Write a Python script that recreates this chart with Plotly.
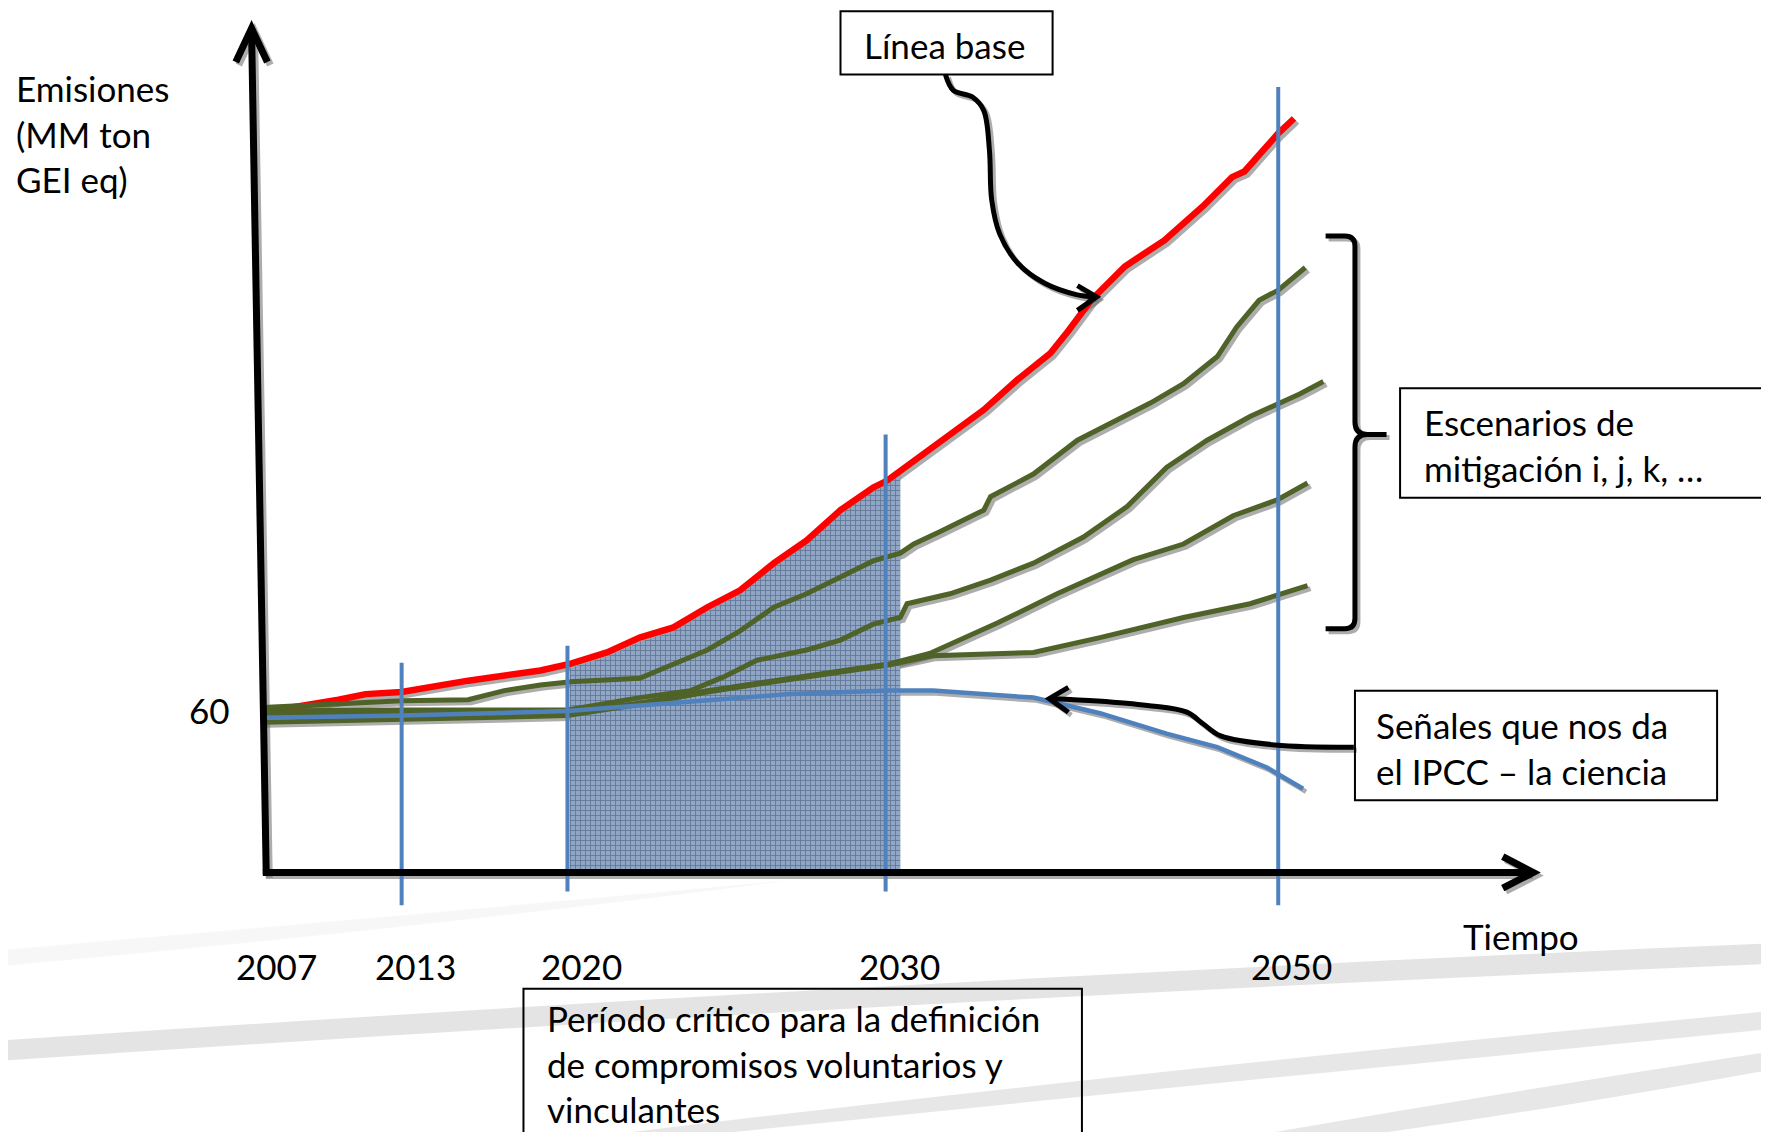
import numpy as np
import plotly.graph_objects as go

# schematic time axis (2007 = 0, arbitrary spacing as in the slide); emissions in MM ton GEI eq
TICK_LABELS = ["2007", "2013", "2020", "2030", "2050"]
TICK_X = [0.0, 12.3, 27.0, 55.2, 90.0]
Y_TICK = 60

GUIDE_X = [12.3, 27.0, 55.2, 90.0]
GUIDE_TOP = [78.0, 84.3, 162.8, 292.0]
GUIDE_BOTTOM = [-12.2, -7.1, -7.1, -12.2]

CRITICAL = [27.2, 56.5]  # 2020 -> 2030 window

BASE_X = [0.0, 2.7, 6.7, 9.1, 12.3, 18.2, 24.6, 27.3, 30.5, 33.4, 36.4, 39.4, 42.3, 45.3,
          48.2, 51.2, 54.1, 55.3, 58.5, 60.9, 63.9, 66.8, 69.8, 71.4, 73.4, 76.4, 79.9,
          83.3, 85.9, 87.0, 90.0, 91.4]
BASE_Y = [59.6, 61.3, 64.2, 66.3, 67.1, 71.3, 75.1, 77.6, 81.8, 87.3, 91.1, 98.6, 104.9, 115.0,
          123.4, 134.7, 143.1, 145.6, 155.7, 163.2, 172.0, 182.9, 193.0, 201.4, 212.7, 225.3,
          235.0, 247.6, 258.5, 260.6, 274.8, 280.3]

SCEN1_X = [0.0, 6.7, 12.3, 18.2, 21.4, 24.6, 27.3, 33.4, 36.4, 39.4, 42.3, 45.3, 48.2, 51.2,
           54.1, 56.5, 57.7, 60.0, 63.9, 64.5, 68.3, 72.2, 75.7, 78.7, 81.6, 84.6, 86.3, 88.3,
           90.0, 92.4]
SCEN1_Y = [61.3, 62.5, 63.8, 64.2, 67.6, 69.7, 70.9, 72.2, 77.6, 82.7, 89.8, 98.6, 103.6, 109.9,
           115.8, 118.7, 122.1, 126.7, 134.7, 139.7, 148.1, 160.7, 168.3, 174.6, 181.7, 191.8,
           202.7, 212.7, 216.5, 224.9]

SCEN2_X = [0.0, 12.3, 27.0, 33.4, 37.9, 40.8, 43.8, 48.2, 51.2, 54.1, 56.5, 57.1, 60.9, 64.5,
           68.3, 72.7, 76.6, 80.1, 83.7, 87.5, 91.9, 94.0]
SCEN2_Y = [60.0, 60.4, 60.4, 65.0, 67.6, 72.6, 78.9, 82.7, 86.4, 92.3, 94.8, 99.9, 103.6, 108.7,
           115.0, 124.6, 136.0, 150.6, 160.7, 169.5, 177.9, 182.5]

SCEN3_X = [0.0, 12.3, 27.0, 33.4, 39.4, 45.3, 51.2, 55.6, 59.1, 65.1, 70.4, 77.1, 81.6, 86.0,
           89.9, 92.6]
SCEN3_Y = [59.2, 59.6, 59.6, 62.9, 67.6, 71.3, 75.1, 77.6, 81.4, 92.7, 103.6, 116.2, 122.1,
           132.6, 138.5, 144.8]

SCEN4_X = [0.0, 12.3, 27.0, 33.4, 39.4, 45.3, 51.2, 55.6, 59.4, 68.3, 74.2, 81.6, 87.5, 92.6]
SCEN4_Y = [55.8, 57.1, 58.3, 62.5, 67.1, 70.9, 74.7, 77.2, 80.6, 81.8, 87.3, 94.8, 99.9, 106.6]

IPCC_X = [0.0, 12.3, 27.0, 38.7, 46.7, 55.6, 59.4, 68.3, 74.2, 80.1, 84.6, 89.0, 92.2]
IPCC_Y = [57.5, 58.3, 60.0, 63.8, 66.3, 67.6, 67.6, 65.0, 59.2, 51.6, 46.6, 39.0, 31.1]

# the page body keeps an 8px margin, so the figure is 8px smaller than the window
W, H = 1761, 1124
X_RANGE = [-22.59, 133.5]
Y_RANGE = [-96.5, 321.38]

RED = "#FF0000"
GREEN = "#4F6228"
BLUE = "#4F81BD"
SHADOW = "rgba(105,105,105,0.55)"
FONT = "Lato, Carlito, 'Open Sans', sans-serif"


def px(sx, sy):
    # slide position -> schematic data units (used only for callouts / decorations)
    return (sx - 233) / 10.0, (773 - sy) * 0.4196


def pt(sx, sy):
    u, v = px(sx, sy)
    return f"{u:.2f},{v:.2f}"


fig = go.Figure()


def add_line(x, y, color, width, shape="linear", shadow=True):
    if shadow:
        fig.add_trace(go.Scatter(x=x, y=y, mode="lines", hoverinfo="skip",
                                 line=dict(color=SHADOW, width=width, shape=shape),
                                 xaxis="x", yaxis="y"))
    fig.add_trace(go.Scatter(x=x, y=y, mode="lines", hoverinfo="skip",
                             line=dict(color=color, width=width, shape=shape),
                             xaxis="x2", yaxis="y2"))


def curve(points, color="black", width=5, shape="spline"):
    xs, ys = zip(*[px(a, b) for a, b in points])
    add_line(list(xs), list(ys), color, width, shape=shape)


# critical period shading, under the baseline curve
shade_x = [CRITICAL[0]] + [x for x in BASE_X if CRITICAL[0] < x < CRITICAL[1]] + [CRITICAL[1]]
shade_y = list(np.interp(shade_x, BASE_X, BASE_Y) - 1.5)
fig.add_trace(go.Scatter(x=shade_x, y=shade_y, mode="lines", fill="tozeroy",
                         line=dict(width=0, color="#7E96B8"),
                         fillpattern=dict(shape="+", bgcolor="#8FA6C6", fgcolor="#34435C",
                                          size=5, solidity=0.3),
                         hoverinfo="skip", xaxis="x2", yaxis="y2"))

# scenario lines
add_line(BASE_X, BASE_Y, RED, 6.5)
for sx_, sy_ in [(SCEN1_X, SCEN1_Y), (SCEN2_X, SCEN2_Y), (SCEN3_X, SCEN3_Y), (SCEN4_X, SCEN4_Y)]:
    add_line(sx_, sy_, GREEN, 5)
add_line(IPCC_X, IPCC_Y, BLUE, 4.5)

# milestone guides
gx, gy = [], []
for x, top, bot in zip(GUIDE_X, GUIDE_TOP, GUIDE_BOTTOM):
    gx += [x, x, None]
    gy += [bot, top, None]
fig.add_trace(go.Scatter(x=gx, y=gy, mode="lines", hoverinfo="skip",
                         line=dict(color=BLUE, width=4), xaxis="x2", yaxis="y2"))

# callout arrows
curve([(838, 66), (845, 80), (862, 86), (872, 98), (877, 133), (879, 177), (886, 207),
       (902, 233), (926, 251), (954, 261), (970, 263)])
curve([(955, 253), (972, 263), (955, 275)], shape="linear")
curve([(1200, 662), (1130, 660), (1082, 652), (1066, 641), (1052, 631), (1017, 625),
       (973, 621), (932, 619)])
curve([(947, 609), (930, 619), (947, 631)], shape="linear")

shapes = []


def add_path(path, width, ref="2"):
    shapes.append(dict(type="path", path=path, xref="x" + ref if ref else "x",
                       yref="y" + ref if ref else "y", layer="above" if ref else "below",
                       line=dict(color="black" if ref else SHADOW, width=width)))


axis_paths = [
    f"M {pt(236, 775)} L {pt(223, 28)}",
    f"M {pt(209, 55)} L {pt(223, 25)} L {pt(237, 55)}",
    f"M {pt(233, 773)} L {pt(1356, 773)}",
    f"M {pt(1332, 759)} L {pt(1359, 773)} L {pt(1332, 787)}",
]
bracket = (f"M {pt(1175, 209)} L {pt(1192, 209)} Q {pt(1201, 209)} {pt(1201, 218)} "
           f"L {pt(1201, 374)} Q {pt(1201, 385)} {pt(1212, 385)} L {pt(1229, 385)} "
           f"M {pt(1212, 385)} Q {pt(1201, 385)} {pt(1201, 396)} L {pt(1201, 548)} "
           f"Q {pt(1201, 557)} {pt(1192, 557)} L {pt(1175, 557)}")
for p in axis_paths:
    add_path(p, 7, ref="")
    add_path(p, 7)
add_path(bracket, 5, ref="")
add_path(bracket, 5)

# soft background brush strokes
for band, alpha in [
    (f"M {pt(0, 842)} Q {pt(350, 812)} {pt(700, 780)} Q {pt(380, 822)} {pt(0, 856)} Z", 0.14),
    (f"M {pt(0, 922)} Q {pt(800, 868)} {pt(1568, 836)} L {pt(1568, 854)} Q {pt(800, 886)} {pt(0, 940)} Z", 0.45),
    (f"M {pt(560, 1003)} Q {pt(1000, 950)} {pt(1568, 896)} L {pt(1568, 912)} Q {pt(1050, 962)} {pt(650, 1003)} Z", 0.4),
    (f"M {pt(1130, 1003)} Q {pt(1350, 965)} {pt(1568, 932)} L {pt(1568, 948)} Q {pt(1380, 982)} {pt(1230, 1003)} Z", 0.4),
]:
    shapes.append(dict(type="path", path=band, xref="x2", yref="y2", layer="below",
                       fillcolor=f"rgba(195,195,195,{alpha})", line=dict(width=0)))

# text boxes
for (x0, y0, x1, y1) in [(745, 10, 933, 66), (1241, 344, 1562, 441),
                         (1201, 612, 1522, 709), (464, 876, 959, 1040)]:
    a, b = px(x0, y0)
    c, d = px(x1, y1)
    shapes.append(dict(type="rect", x0=a, y0=d, x1=c, y1=b, xref="x2", yref="y2",
                       layer="above", line=dict(color="black", width=2),
                       fillcolor="rgba(0,0,0,0)"))

annotations = []


def label(text, sx, sy, xanchor="left"):
    u, v = px(sx, sy)
    annotations.append(dict(text=text, x=u, y=v, xref="x2", yref="y2", showarrow=False,
                            xanchor=xanchor, yanchor="middle", align="left"))


label("Emisiones<br>(MM ton<br>GEI eq)", 12, 118)
label(str(Y_TICK), 206, 629, xanchor="right")
for t, x in zip(TICK_LABELS, TICK_X):
    annotations.append(dict(text=t, x=x + 1.2, y=px(0, 856)[1], xref="x2", yref="y2",
                            showarrow=False, xanchor="center", yanchor="middle"))
label("Tiempo", 1348, 829, xanchor="center")
label("Línea base", 764, 40)
label("Escenarios de<br>mitigación i, j, k, …", 1260, 394)
label("Señales que nos da<br>el IPCC – la ciencia", 1218, 663)
label("Período crítico para la definición<br>de compromisos voluntarios y<br>vinculantes", 483, 942)

dx = 3 * (X_RANGE[1] - X_RANGE[0]) / W
dy = 3 * (Y_RANGE[1] - Y_RANGE[0]) / H
fig.update_layout(
    width=W, height=H,
    margin=dict(l=0, r=0, t=0, b=0),
    paper_bgcolor="white", plot_bgcolor="white",
    showlegend=False,
    font=dict(family=FONT, size=35, color="black"),
    xaxis=dict(range=[X_RANGE[0] - dx, X_RANGE[1] - dx], visible=False),
    yaxis=dict(range=[Y_RANGE[0] + dy, Y_RANGE[1] + dy], visible=False),
    xaxis2=dict(range=X_RANGE, overlaying="x", anchor="y2", visible=False),
    yaxis2=dict(range=Y_RANGE, overlaying="y", anchor="x2", visible=False),
    shapes=shapes,
    annotations=annotations,
)

fig.write_html("out.html")
